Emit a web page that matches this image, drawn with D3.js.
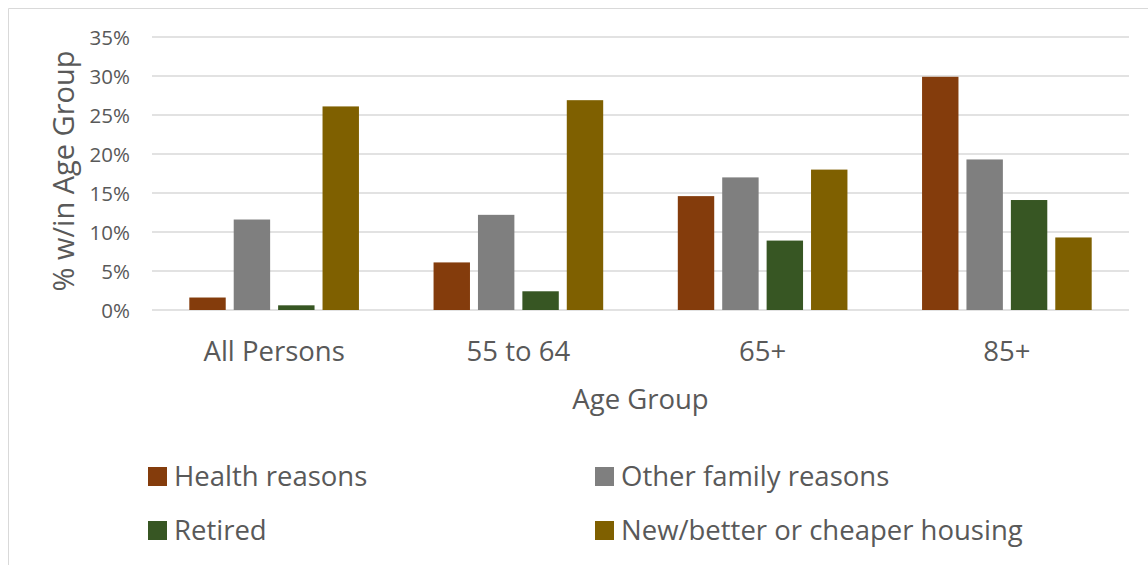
<!DOCTYPE html>
<html><head><meta charset="utf-8">
<script src="https://cdn.jsdelivr.net/npm/d3@7"></script>
<style>body{margin:0;background:#fff}svg{display:block}text{font-family:"Open Sans",sans-serif;fill:#595959}</style>
</head><body><svg id="c" width="1148" height="565"></svg>
<script>
const categories = ["All Persons", "55 to 64", "65+", "85+"];
const seriesNames = ["Health reasons", "Other family reasons", "Retired", "New/better or cheaper housing"];
const seriesColors = ["#843C0C", "#7F7F7F", "#375623", "#7F6000"];
const health = [1.6, 6.1, 14.6, 29.9];
const otherFamily = [11.6, 12.2, 17.0, 19.3];
const retired = [0.6, 2.4, 8.9, 14.1];
const housing = [26.1, 26.9, 18.0, 9.3];
const yTicks = [0, 5, 10, 15, 20, 25, 30, 35];
const seriesValues = [health, otherFamily, retired, housing];

const svg = d3.select("#c");
svg.append("path").attr("d","M8.5,565 V8.5 H1148").attr("fill","none").attr("stroke","#D9D9D9").attr("stroke-width",1);

const pLeft = 152, pRight = 1129, pTop = 37, pBottom = 310;
const x0 = d3.scaleBand().domain(categories).range([pLeft, pRight]).padding(0);
const x1 = d3.scaleBand().domain(seriesNames).range([0, x0.bandwidth()]).paddingInner(0.18).paddingOuter(0.84);
const y = d3.scaleLinear().domain([0, 35]).range([pBottom, pTop]);

svg.append("g").selectAll("line").data(yTicks).join("line")
  .attr("x1", pLeft).attr("x2", pRight)
  .attr("y1", d => y(d)).attr("y2", d => y(d))
  .attr("stroke", "#D9D9D9").attr("stroke-width", 1.5);

const yAxis = d3.axisLeft(y).tickValues(yTicks).tickFormat(d => d + "%").tickSize(0).tickPadding(0);
const ya = svg.append("g").attr("transform", `translate(130,0)`).call(yAxis);
ya.select(".domain").remove();
ya.selectAll("text").style("font-size","20.5px").attr("fill","#595959").attr("dy","0.35em").style("font-family","'Open Sans',sans-serif");

const data = categories.map((c, i) => ({c, vals: seriesNames.map((s, j) => ({s, v: seriesValues[j][i], color: seriesColors[j]}))}));
const groups = svg.append("g").selectAll("g").data(data).join("g")
  .attr("transform", d => `translate(${x0(d.c)},0)`);
groups.selectAll("rect").data(d => d.vals).join("rect")
  .attr("x", d => x1(d.s)).attr("width", x1.bandwidth())
  .attr("y", d => y(d.v)).attr("height", d => y(0) - y(d.v))
  .attr("fill", d => d.color);

const xAxis = d3.axisBottom(x0).tickSize(0).tickPadding(0);
const xa = svg.append("g").attr("transform", `translate(0,${pBottom})`).call(xAxis);
xa.select(".domain").remove();
xa.selectAll("text").attr("dy", null).attr("y", 51).style("font-size","27.5px").attr("fill","#595959").style("font-family","'Open Sans',sans-serif");

svg.append("text").attr("x", (pLeft+pRight)/2).attr("y", 409).attr("text-anchor","middle").style("font-size","27.5px").text("Age Group");
svg.append("text").attr("transform", `translate(74,171) rotate(-90)`).attr("text-anchor","middle").style("font-size","29px").text("% w/in Age Group");

const legendPos = [[148,486],[595,486],[148,540],[595,540]];
const lg = svg.append("g").selectAll("g").data(seriesNames).join("g")
  .attr("transform", (d,i) => `translate(${legendPos[i][0]},${legendPos[i][1]})`);
lg.append("rect").attr("x",0).attr("y",-19).attr("width",19).attr("height",19).attr("fill",(d,i)=>seriesColors[i]);
lg.append("text").attr("x",26).attr("y",0).style("font-size","27.5px").text(d=>d);
</script></body></html>
